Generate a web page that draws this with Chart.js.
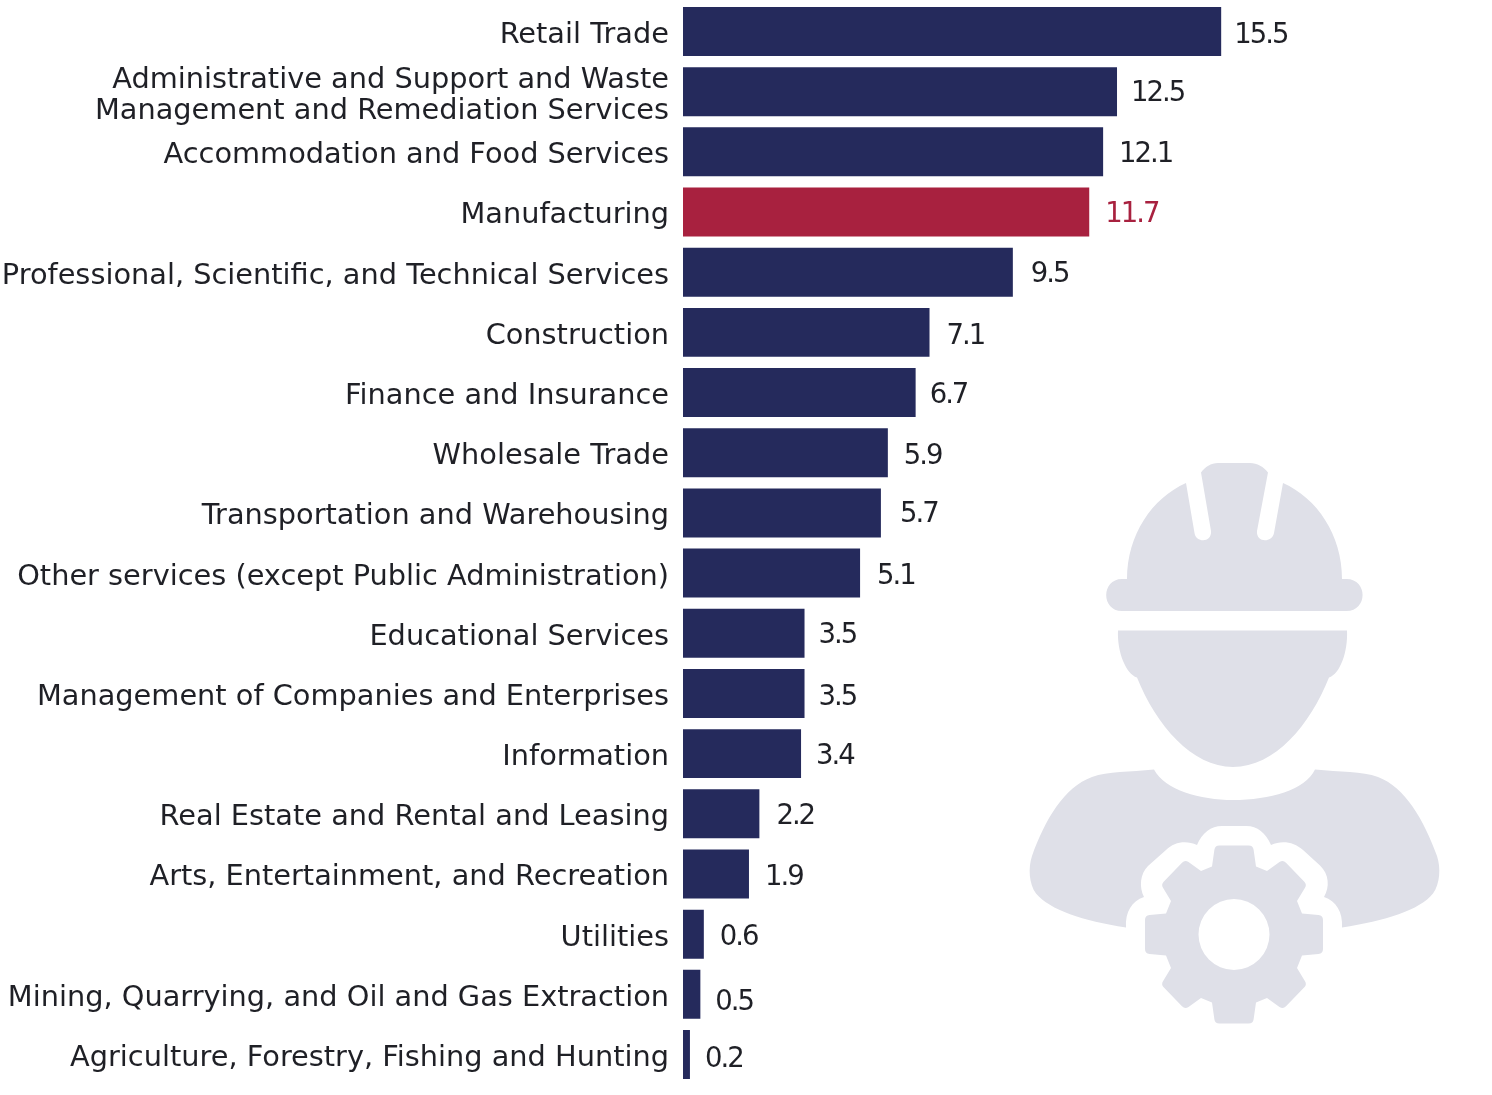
<!DOCTYPE html>
<html>
<head>
<meta charset="utf-8">
<style>
  html, body { margin: 0; padding: 0; background: #fff; }
  #wrap { position: relative; width: 1492px; height: 1095px; }
</style>
</head>
<body>
<div id="wrap"><canvas id="grafico"></canvas></div>
<script src="https://cdn.jsdelivr.net/npm/chart.js@4/dist/chart.umd.min.js"></script>
<script>
const categorias = [
  "Retail Trade",
  ["Administrative and Support and Waste", "Management and Remediation Services"],
  "Accommodation and Food Services",
  "Manufacturing",
  "Professional, Scientific, and Technical Services",
  "Construction",
  "Finance and Insurance",
  "Wholesale Trade",
  "Transportation and Warehousing",
  "Other services (except Public Administration)",
  "Educational Services",
  "Management of Companies and Enterprises",
  "Information",
  "Real Estate and Rental and Leasing",
  "Arts, Entertainment, and Recreation",
  "Utilities",
  "Mining, Quarrying, and Oil and Gas Extraction",
  "Agriculture, Forestry, Fishing and Hunting"
];
const valores = [15.5, 12.5, 12.1, 11.7, 9.5, 7.1, 6.7, 5.9, 5.7, 5.1, 3.5, 3.5, 3.4, 2.2, 1.9, 0.6, 0.5, 0.2];

// el original tiene las etiquetas un poco movidas respecto a la barra
const ajusteX = [-1, 0, 2, 2, 4, 3, 0, 2, 5, 3, 0, 0, 1, 3, 2, 2, 1, 1];
const ajusteY = [4, 2, 3, 3, 3, 4, 3, 4, 2, 4, 3, 4, 3, 3, 4, 4, 9, 5];

const AZUL = "#252a5c";
const ROJO = "#a8213f";
const GRIS = "#dfe0e8";
const TEXTO = "#1f2026";
const FUENTE = "'DejaVu Sans'";

// colores por barra, Manufacturing va en rojo
const colores = categorias.map(c => c === "Manufacturing" ? ROJO : AZUL);

// ----------- ICONO TRABAJADOR ----------
function dibujarEngranaje(ctx, cx, cy) {
  // un cuadrante del engranaje: x, y, radio de la esquina
  const cuarto = [
    [19, -89, 5], [22, -68, 0], [33, -63.5, 0], [49, -75, 5],
    [73, -50, 5], [63, -33.5, 0], [68, -21, 0], [89, -19, 5]
  ];
  const puntos = [
    ...cuarto,
    ...cuarto.slice().reverse().map(([x, y, r]) => [x, -y, r]),
    ...cuarto.map(([x, y, r]) => [-x, -y, r]),
    ...cuarto.slice().reverse().map(([x, y, r]) => [-x, y, r])
  ];
  const n = puntos.length;
  ctx.beginPath();
  ctx.moveTo(cx, cy + puntos[0][1]);
  for (let i = 0; i < n; i++) {
    const [x, y, r] = puntos[i];
    const sig = puntos[(i + 1) % n];
    if (r > 0) ctx.arcTo(cx + x, cy + y, cx + sig[0], cy + sig[1], r);
    else ctx.lineTo(cx + x, cy + y);
  }
  ctx.closePath();
  ctx.moveTo(cx + 35.5, cy);
  ctx.arc(cx, cy, 35.5, 0, Math.PI * 2, true);
  ctx.fill("evenodd");
}

function dibujarIcono(ctx) {
  ctx.save();
  ctx.fillStyle = GRIS;

  // casco
  ctx.beginPath();
  ctx.moveTo(1127, 579);
  ctx.bezierCurveTo(1127, 535, 1152, 498, 1186, 483);
  ctx.lineTo(1194.5, 533);
  ctx.bezierCurveTo(1196, 543, 1212, 543, 1211, 531);
  ctx.lineTo(1201, 472.5);
  ctx.bezierCurveTo(1205, 467, 1211, 463, 1218, 463);
  ctx.lineTo(1250, 463);
  ctx.bezierCurveTo(1257, 463, 1264, 467, 1268, 472.5);
  ctx.lineTo(1257, 531);
  ctx.bezierCurveTo(1256, 543, 1272, 543, 1274, 533);
  ctx.lineTo(1283, 483);
  ctx.bezierCurveTo(1317, 498, 1342, 535, 1342, 579);
  ctx.lineTo(1346.5, 579);
  ctx.bezierCurveTo(1368, 579, 1368, 611, 1346.5, 611);
  ctx.lineTo(1122, 611);
  ctx.bezierCurveTo(1101, 611, 1101, 579, 1122, 579);
  ctx.closePath();
  ctx.fill();

  // cara
  ctx.beginPath();
  ctx.moveTo(1118, 630.5);
  ctx.lineTo(1347, 630.5);
  ctx.bezierCurveTo(1348, 652, 1340, 674, 1329, 677.5);
  ctx.bezierCurveTo(1310, 725, 1275, 767, 1233, 767);
  ctx.bezierCurveTo(1192, 767, 1156, 725, 1137, 677.5);
  ctx.bezierCurveTo(1126, 674, 1117, 652, 1118, 630.5);
  ctx.closePath();
  ctx.fill();

  // hombros, con el hueco alrededor del engranaje
  ctx.beginPath();
  ctx.moveTo(1154, 769.5);
  ctx.bezierCurveTo(1165, 790, 1200, 800, 1233, 800);
  ctx.bezierCurveTo(1270, 800, 1305, 790, 1315, 769.5);
  ctx.bezierCurveTo(1340, 772, 1362, 771, 1378, 777);
  ctx.bezierCurveTo(1405, 787, 1424, 820, 1437, 856);
  ctx.bezierCurveTo(1441, 868, 1440, 884, 1433, 893.5);
  ctx.bezierCurveTo(1420, 910, 1385, 921, 1342, 927.5);
  ctx.bezierCurveTo(1343, 912, 1336, 901, 1324, 897);
  ctx.bezierCurveTo(1330, 887, 1329, 874, 1320, 865.5);
  ctx.lineTo(1303, 850);
  ctx.bezierCurveTo(1294, 842, 1282, 840, 1271, 845);
  ctx.bezierCurveTo(1266, 833, 1257, 826, 1246.5, 826);
  ctx.lineTo(1222, 826);
  ctx.bezierCurveTo(1211, 826, 1202, 833, 1197, 845);
  ctx.bezierCurveTo(1186, 840, 1174, 842, 1166, 850);
  ctx.lineTo(1148, 866);
  ctx.bezierCurveTo(1140, 874, 1139, 887, 1144, 897);
  ctx.bezierCurveTo(1132, 901, 1125, 912, 1126, 927.5);
  ctx.bezierCurveTo(1083, 921, 1050, 910, 1036, 893.5);
  ctx.bezierCurveTo(1029, 884, 1028, 868, 1032, 856);
  ctx.bezierCurveTo(1045, 820, 1064, 787, 1092, 777);
  ctx.bezierCurveTo(1108, 771, 1130, 772, 1154, 769.5);
  ctx.closePath();
  ctx.fill();

  dibujarEngranaje(ctx, 1234, 934.5);
  ctx.restore();
}

const pluginIcono = {
  id: "icono",
  beforeDatasetsDraw(chart) { dibujarIcono(chart.ctx); }
};

// ----------- ETIQUETAS DE VALOR ----------
const pluginValores = {
  id: "valores",
  afterDatasetsDraw(chart) {
    const ctx = chart.ctx;
    const barras = chart.getDatasetMeta(0).data;
    ctx.save();
    ctx.font = "27.5px " + FUENTE;
    ctx.letterSpacing = "-2px";
    ctx.textBaseline = "middle";
    ctx.textAlign = "left";
    barras.forEach((b, i) => {
      ctx.fillStyle = colores[i] === ROJO ? ROJO : TEXTO;
      ctx.fillText(valores[i].toFixed(1), b.x + 14 + ajusteX[i], b.y + ajusteY[i]);
    });
    ctx.restore();
  }
};

new Chart(document.getElementById("grafico"), {
  type: "bar",
  data: {
    labels: categorias,
    datasets: [{
      data: valores,
      backgroundColor: colores,
      barPercentage: 1,
      categoryPercentage: 0.814
    }]
  },
  options: {
    indexAxis: "y",
    responsive: true,
    maintainAspectRatio: false,
    animation: false,
    layout: { padding: { top: 1.4, bottom: 10.4, left: 0, right: 0 } },
    plugins: { legend: { display: false }, tooltip: { enabled: false } },
    scales: {
      x: {
        display: false,
        min: 0,
        max: 23.3
      },
      y: {
        afterFit(eje) {
          eje.width = 683;
          eje.paddingTop = 0;
          eje.paddingBottom = 0;
        },
        border: { display: false },
        grid: { display: false, tickLength: 0 },
        ticks: {
          color: TEXTO,
          padding: 14,
          autoSkip: false,
          labelOffset: 4,
          font: { family: FUENTE, size: 28.8, lineHeight: 1.08 }
        }
      }
    }
  },
  plugins: [pluginIcono, pluginValores]
});
</script>
</body>
</html>
